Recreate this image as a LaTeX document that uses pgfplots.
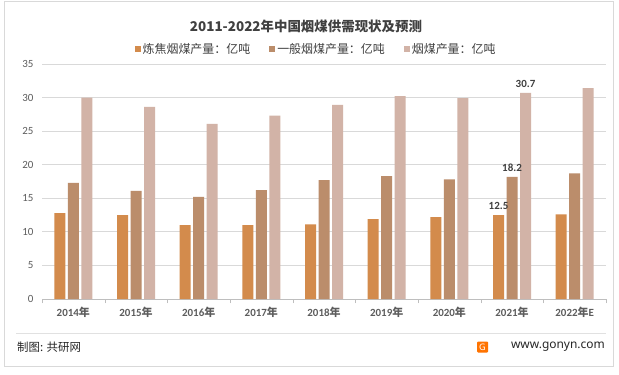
\documentclass[border=0pt]{standalone}
\usepackage{fontspec}
\usepackage{pgfplots}
\pgfplotsset{compat=1.18}
\setmainfont{Carlito}
\newfontfamily\cjk{Noto Sans CJK SC}
\newfontfamily\nsans{Noto Sans}
\definecolor{c1}{HTML}{D38B4C}
\definecolor{c2}{HTML}{BB8D6B}
\definecolor{c3}{HTML}{D2B3A7}
\definecolor{txt}{HTML}{404040}
\definecolor{gridc}{HTML}{D9D9D9}
\newcommand{\yr}[1]{\bfseries #1{\cjk\bfseries 年}}
\begin{document}
\begin{tikzpicture}[x=1bp,y=1bp]
\path[use as bounding box] (0,0) rectangle (619,374);
\fill[white] (0,0) rectangle (619,374);
\draw[gridc, line width=1bp] (4,8) rectangle (613,372);
\draw[gridc!80, line width=0.8bp] (16,41) -- (606,41);
\begin{axis}[
  at={(42bp,75bp)}, anchor=south west,
  scale only axis, width=564bp, height=235bp,
  ymin=0, ymax=35, ytick={0,5,...,35},
  xmin=-0.5, xmax=8.5,
  xtick={0,...,8},
  xticklabels={\yr{2014},\yr{2015},\yr{2016},\yr{2017},\yr{2018},\yr{2019},\yr{2020},\yr{2021},\yr{2022}E},
  extra x ticks={-0.5,0.5,...,8.5},
  extra x tick labels={},
  extra x tick style={major tick length=4bp, tick align=outside, xmajorgrids=false, tick style={draw=gridc!70!gray}},
  major tick length=0pt,
  axis y line*=left,
  axis x line*=bottom,
  y axis line style={draw=none},
  x axis line style={draw=gridc!70!gray, line width=0.8bp, -},
  ymajorgrids, grid style={draw=gridc, line width=0.8bp},
  ybar=2.5bp, bar width=11bp,
  tick label style={text=txt!85},
  xticklabel style={font=\fontsize{11}{13}\selectfont, yshift=-5bp},
  yticklabel style={font=\fontsize{11}{13}\selectfont, xshift=-5bp},
  /pgf/number format/assume math mode=true,
  clip=false,
  legend columns=3,
  legend style={at={(0.486,1.022)}, anchor=south, draw=none, fill=none,
    font=\cjk\fontsize{12}{14}\selectfont, text=txt,
    /tikz/every even column/.append style={column sep=17bp}},
  legend image code/.code={\fill[#1] (0bp,-3bp) rectangle (6bp,3bp);},
  nodes near coords={\ifnum\coordindex=7 \pgfmathprintnumber[fixed,precision=1,fixed zerofill]{\pgfplotspointmeta}\fi},
  nodes near coords style={font=\bfseries\fontsize{11}{13}\selectfont, text=txt, yshift=2bp},
]
\addplot[fill=c1, draw=none] coordinates {(0,12.8) (1,12.5) (2,11.0) (3,11.0) (4,11.1) (5,11.9) (6,12.2) (7,12.5) (8,12.6)};
\addplot[fill=c2, draw=none] coordinates {(0,17.3) (1,16.1) (2,15.2) (3,16.2) (4,17.7) (5,18.3) (6,17.8) (7,18.2) (8,18.7)};
\addplot[fill=c3, draw=none] coordinates {(0,30.0) (1,28.6) (2,26.1) (3,27.3) (4,28.9) (5,30.2) (6,29.9) (7,30.7) (8,31.4)};
\legend{炼焦烟煤产量：亿吨,一般烟煤产量：亿吨,烟煤产量：亿吨}
\end{axis}
\node[font=\cjk\bfseries\fontsize{13.5}{15}\selectfont, text=txt] at (306,348) {2011-2022年中国烟煤供需现状及预测};
\node[anchor=west, font=\cjk\fontsize{11.5}{13}\selectfont, text=black!85, inner sep=0] at (17,27) {制图: 共研网};
\node[anchor=east, font=\nsans\fontsize{12}{14}\selectfont, text=black!85, inner sep=0] at (605,27) {www.gonyn.com};
\fill[orange!90!red, rounded corners=1bp] (477,21.5) rectangle (488,32.5);
\node[font=\nsans\bfseries\fontsize{9}{10}\selectfont, text=white, inner sep=0] at (482.5,27) {G};
\end{tikzpicture}
\end{document}
